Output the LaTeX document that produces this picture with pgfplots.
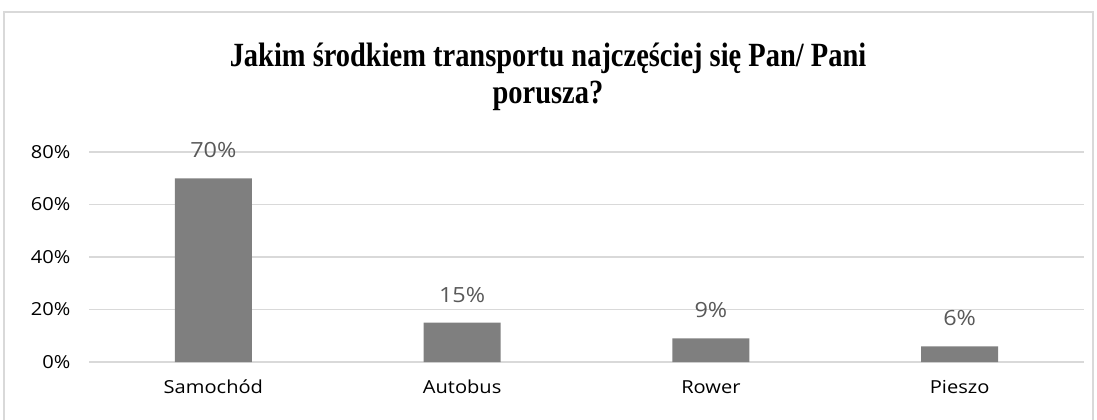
\documentclass[border=0pt]{standalone}
\usepackage{fontspec}
\setmainfont{Open Sans}
\newfontfamily\titlefont[FakeStretch=0.84]{Liberation Serif}
\newfontfamily\widefont[FakeStretch=1.12]{Open Sans}
\usepackage{pgfplots}
\pgfplotsset{compat=1.18}
\definecolor{barc}{HTML}{7F7F7F}
\definecolor{gridc}{HTML}{D9D9D9}
\definecolor{lblc}{HTML}{595959}
\begin{document}
\begin{tikzpicture}[x=1bp,y=1bp]
\useasboundingbox (0,0) rectangle (1097,419);
\draw[gridc, line width=2bp] (4,-5) rectangle (1093,407);
\node[font=\titlefont\bfseries\fontsize{34}{37}\selectfont, align=center, anchor=north, inner sep=0pt]
  at (548,376) {Jakim środkiem transportu najczęściej się Pan/ Pani\\porusza?};
\begin{axis}[
    at={(89bp,57bp)}, anchor=south west,
    scale only axis, width=995bp, height=210bp,
    ybar, bar width=77bp,
    xmin=-0.5, xmax=3.5, ymin=0, ymax=80,
    xtick=data,
    xticklabels={Samochód, Autobus, Rower, Pieszo},
    ytick={0,20,40,60,80},
    yticklabel={\pgfmathprintnumber{\tick}\%},
    /pgf/number format/assume math mode=true,
    axis line style={draw=none},
    major tick length=0pt,
    ymajorgrids, grid style={gridc, line width=1.3bp},
    ticklabel style={font=\widefont\fontsize{18}{18}\selectfont},
    yticklabel style={xshift=-15bp},
    xticklabel style={yshift=-14bp, text height=14bp, text depth=4bp},
    nodes near coords={\pgfmathprintnumber{\pgfplotspointmeta}\%},
    every node near coord/.append style={lblc, font=\widefont\fontsize{21}{21}\selectfont, inner sep=0pt, yshift=20bp},
]
\addplot[fill=barc, draw=none] coordinates {(0,70) (1,15) (2,9) (3,6)};
\end{axis}
\end{tikzpicture}
\end{document}
